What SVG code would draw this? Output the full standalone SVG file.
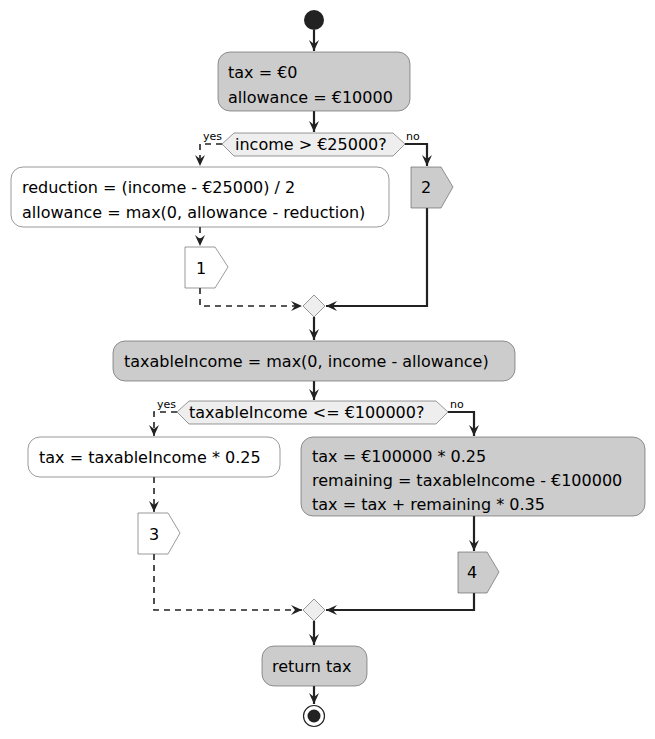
<svg xmlns="http://www.w3.org/2000/svg" width="655" height="739" viewBox="0 0 655 739">
<defs>
<style>
text{font-family:"DejaVu Sans",sans-serif;font-size:16px;fill:#000}
.lbl{font-size:11px}
.g{fill:#CCCCCC;stroke:#555;stroke-width:0.6}
.w{fill:#FFFFFF;stroke:#555;stroke-width:0.6}
.d{fill:#EEEEEE;stroke:#555;stroke-width:0.6}
.s{fill:none;stroke:#222;stroke-width:2.2}
.ds{fill:none;stroke:#222;stroke-width:1.6;stroke-dasharray:6,5}
</style>
<marker id="ah" viewBox="0 0 12 12" refX="11" refY="6" markerWidth="12" markerHeight="12" markerUnits="userSpaceOnUse" orient="auto">
<path d="M0,1 L11,6 L0,11 L4,6 Z" fill="#222"/>
</marker>
</defs>
<rect width="655" height="739" fill="#fff"/>
<g id="connectors">
<path class="s" d="M314,30 V51" marker-end="url(#ah)"/>
<path class="s" d="M314,111 V132" marker-end="url(#ah)"/>
<path class="ds" d="M222,144 H200 V166" marker-end="url(#ah)"/>
<path class="s" d="M405,144 H427 V166" marker-end="url(#ah)"/>
<path class="ds" d="M200,227 V246" marker-end="url(#ah)"/>
<path class="ds" d="M200,288 V306 H302" marker-end="url(#ah)"/>
<path class="s" d="M427,208 V306 H326" marker-end="url(#ah)"/>
<path class="s" d="M314,317 V340" marker-end="url(#ah)"/>
<path class="s" d="M314,381 V400" marker-end="url(#ah)"/>
<path class="ds" d="M177,412 H154 V436" marker-end="url(#ah)"/>
<path class="s" d="M448,412 H474 V436" marker-end="url(#ah)"/>
<path class="ds" d="M154,477 V512" marker-end="url(#ah)"/>
<path class="s" d="M474,516 V551" marker-end="url(#ah)"/>
<path class="ds" d="M154,554 V610 H302" marker-end="url(#ah)"/>
<path class="s" d="M474,593 V610 H326" marker-end="url(#ah)"/>
<path class="s" d="M314,621 V645" marker-end="url(#ah)"/>
<path class="s" d="M314,686 V704" marker-end="url(#ah)"/>
<text class="lbl" x="203" y="140">yes</text>
<text class="lbl" x="406" y="140">no</text>
<text class="lbl" x="157" y="408">yes</text>
<text class="lbl" x="450" y="408">no</text>
</g>
<g id="start"><circle cx="314" cy="20" r="10" fill="#222"/></g>
<g id="init"><rect class="g" x="218" y="52" width="192" height="59" rx="12"/><text x="228" y="78">tax = €0</text><text x="228" y="103">allowance = €10000</text></g>
<g id="dec1"><polygon class="d" points="222,144 234,133 393,133 405,144 393,156 234,156"/><text x="235" y="150">income &gt; €25000?</text></g>
<g id="reduce"><rect class="w" x="11" y="167" width="378" height="60" rx="12"/><text x="22" y="193">reduction = (income - €25000) / 2</text><text x="22" y="218">allowance = max(0, allowance - reduction)</text></g>
<g id="p1"><polygon class="w" points="185,247 215,247 228,267 215,288 185,288"/><text x="196" y="274">1</text></g>
<g id="p2"><polygon class="g" points="411,167 441,167 453,187 441,208 411,208"/><text x="421" y="193">2</text></g>
<g id="merge1"><polygon class="d" points="314,295 325,306 314,317 303,306"/></g>
<g id="taxable"><rect class="g" x="113" y="341" width="402" height="40" rx="12"/><text x="124" y="367">taxableIncome = max(0, income - allowance)</text></g>
<g id="dec2"><polygon class="d" points="177,412 189,401 436,401 448,412 436,424 189,424"/><text x="189" y="418">taxableIncome &lt;= €100000?</text></g>
<g id="low"><rect class="w" x="28" y="437" width="252" height="40" rx="12"/><text x="39" y="463">tax = taxableIncome * 0.25</text></g>
<g id="high"><rect class="g" x="301" y="437" width="344" height="79" rx="12"/><text x="312" y="462">tax = €100000 * 0.25</text><text x="312" y="486">remaining = taxableIncome - €100000</text><text x="312" y="510">tax = tax + remaining * 0.35</text></g>
<g id="p3"><polygon class="w" points="138,513 168,513 180,533 168,554 138,554"/><text x="149" y="540">3</text></g>
<g id="p4"><polygon class="g" points="458,552 487,552 499,572 487,593 458,593"/><text x="467" y="578">4</text></g>
<g id="merge2"><polygon class="d" points="314,599 325,610 314,621 303,610"/></g>
<g id="ret"><rect class="g" x="262" y="646" width="105" height="40" rx="12"/><text x="272" y="672">return tax</text></g>
<g id="end"><circle cx="314" cy="716" r="10.5" fill="#fff" stroke="#222" stroke-width="1.2"/><circle cx="314" cy="716" r="6.5" fill="#222"/></g>
</svg>
